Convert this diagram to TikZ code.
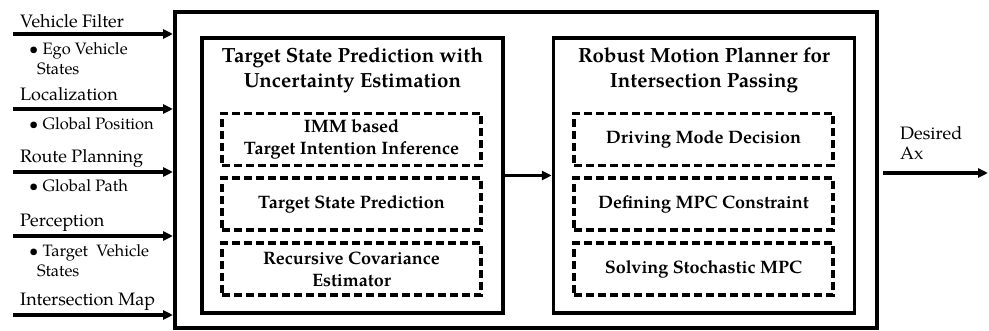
\documentclass[tikz,border=0pt]{standalone}
\usepackage{fontspec}
\setmainfont{TeX Gyre Pagella}
\usetikzlibrary{arrows.meta}
\begin{document}
\begin{tikzpicture}[x=1pt,y=-1pt,
  outerbox/.style={draw,line width=4pt,minimum width=702pt,minimum height=316pt,inner sep=0pt},
  innerbox/.style={draw,line width=3.5pt,minimum width=301pt,minimum height=275pt,inner sep=0pt},
  dbox/.style={draw,line width=3.3pt,dash pattern=on 8pt off 4pt,minimum width=259pt,minimum height=52pt,inner sep=0pt,align=center,font=\fontsize{18}{22}\selectfont\bfseries},
  ttl/.style={align=center,font=\fontsize{20.5}{25}\selectfont\bfseries,inner sep=0pt},
  lbl/.style={anchor=base west,inner sep=0pt,font=\fontsize{18}{21}\selectfont},
  sub/.style={anchor=base west,inner sep=0pt,font=\fontsize{16.5}{20}\selectfont,align=left},
  arr/.style={line width=3.3pt,-{Triangle[length=10pt,width=9pt]}}
]
\useasboundingbox (0,0) rectangle (989,331);
\node[outerbox] (sys) at (526,170.5) {};
\node[innerbox] (tsp) at (352.5,175.5) {};
\node[innerbox] (rmp) at (704,175.5) {};
\node[ttl] (t1) at (352.5,70) {Target State Prediction with\\Uncertainty Estimation};
\node[ttl] (t2) at (704,70) {Robust Motion Planner for\\Intersection Passing};
\node[dbox] (a1) at (351.5,139.5) {IMM based\\Target Intention Inference};
\node[dbox] (a2) at (351.5,204) {Target State Prediction};
\node[dbox] (a3) at (351.5,269) {Recursive Covariance\\Estimator};
\node[dbox] (b1) at (703.5,139.5) {Driving Mode Decision};
\node[dbox] (b2) at (703.5,204) {Defining MPC Constraint};
\node[dbox] (b3) at (703.5,269) {Solving Stochastic MPC};
\draw[arr] (tsp.east) -- (rmp.west);
\coordinate (out) at (988,173);
\draw[arr] ([xshift=4pt]sys.east |- out) -- (out);
\node[anchor=base west,inner sep=0pt,align=left,font=\fontsize{18}{20}\selectfont] (da) at (900,160) {Desired\\Ax};
% inputs
\coordinate (i1) at (13,34);
\coordinate (i2) at (13,109);
\coordinate (i3) at (13,172);
\coordinate (i4) at (13,236);
\coordinate (i5) at (13,315);
\foreach \i in {1,...,5} {\draw[arr] (i\i) -- (sys.west |- i\i);}
\node[lbl] (l1) at (20,28) {Vehicle Filter};
\node[sub] (s1) at (29,75) {\textbullet\ Ego Vehicle\\\hspace*{8pt}States};
\node[lbl] (l2) at (20,101) {Localization};
\node[sub] (s2) at (29,130) {\textbullet\ Global Position};
\node[lbl] (l3) at (20,163) {Route Planning};
\node[sub] (s3) at (29,192) {\textbullet\ Global Path};
\node[lbl] (l4) at (20,227) {Perception};
\node[sub] (s4) at (29,277) {\textbullet\ Target\ \ Vehicle\\\hspace*{8pt}States};
\node[lbl] (l5) at (20,306) {Intersection Map};
\end{tikzpicture}
\end{document}
